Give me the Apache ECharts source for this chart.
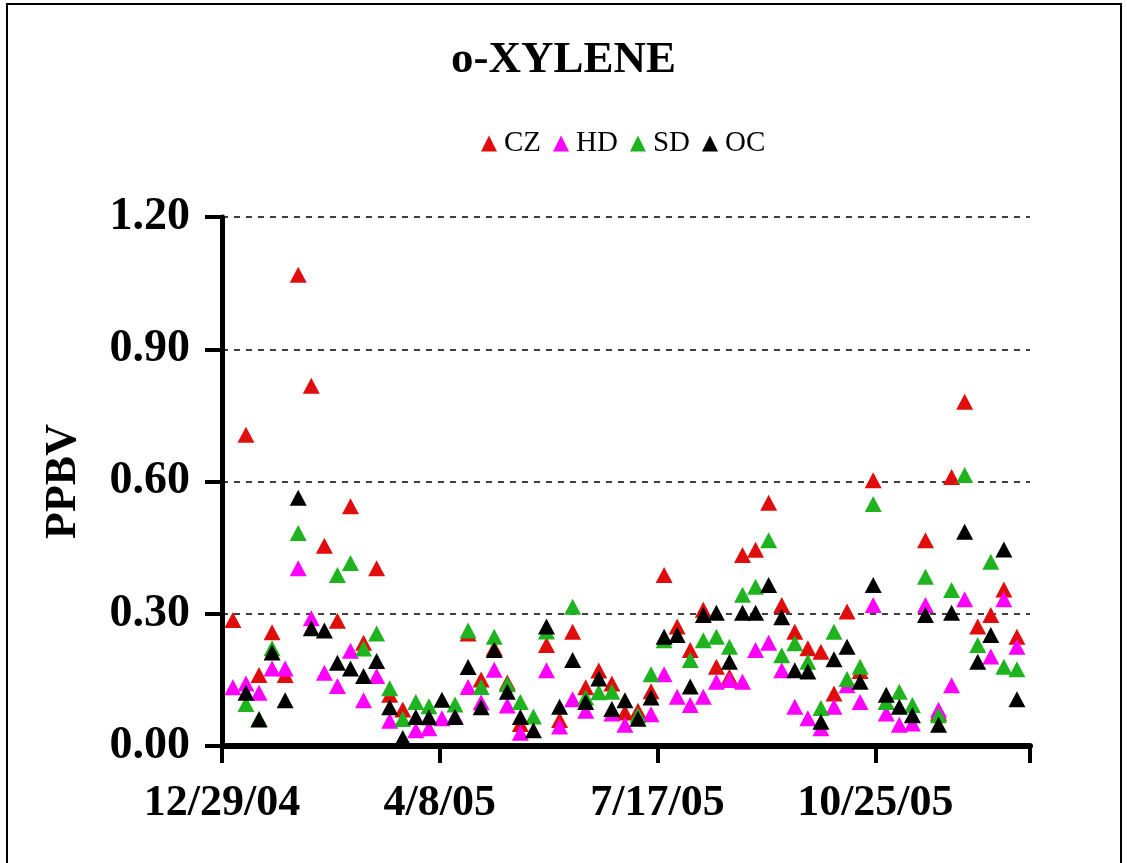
<!DOCTYPE html>
<html>
<head>
<meta charset="utf-8">
<script src="https://cdn.jsdelivr.net/npm/echarts@6/dist/echarts.min.js"></script>
<style>
html,body{margin:0;padding:0;background:#fff;}
#chart{width:1127px;height:863px;}
</style>
</head>
<body>
<div id="chart"></div>
<script>
// Sampling dates (every 6th day)
const sampleDates = [
 '2005-01-03','2005-01-09','2005-01-15','2005-01-21','2005-01-27','2005-02-02','2005-02-08','2005-02-14','2005-02-20','2005-02-26',
 '2005-03-04','2005-03-10','2005-03-16','2005-03-22','2005-03-28','2005-04-03','2005-04-09','2005-04-15','2005-04-21','2005-04-27',
 '2005-05-03','2005-05-09','2005-05-15','2005-05-21','2005-05-27','2005-06-02','2005-06-08','2005-06-14','2005-06-20','2005-06-26',
 '2005-07-02','2005-07-08','2005-07-14','2005-07-20','2005-07-26','2005-08-01','2005-08-07','2005-08-13','2005-08-19','2005-08-25',
 '2005-08-31','2005-09-06','2005-09-12','2005-09-18','2005-09-24','2005-09-30','2005-10-06','2005-10-12','2005-10-18','2005-10-24',
 '2005-10-30','2005-11-05','2005-11-11','2005-11-17','2005-11-23','2005-11-29','2005-12-05','2005-12-11','2005-12-17','2005-12-23',
 '2005-12-29'
];
const seriesNames = ['CZ','HD','SD','OC'];
const CZ = [0.286,0.706,0.161,0.258,0.161,1.069,0.817,0.454,0.284,0.544,
 0.234,0.403,0.116,0.083,null,null,null,null,0.255,0.151,
 0.222,0.144,0.050,null,0.229,0.059,0.259,0.133,0.171,0.142,
 0.076,0.080,0.124,0.388,0.271,0.218,0.309,0.180,0.157,0.433,
 0.445,0.552,0.320,0.259,0.222,0.214,0.119,0.305,0.170,0.603,
 0.100,null,null,0.467,0.075,0.610,0.781,0.271,0.297,0.355,
 0.248];
const HD = [0.133,0.142,0.121,0.176,0.176,0.403,0.290,0.166,0.136,0.216,
 0.104,0.159,0.057,null,0.036,0.040,0.063,0.068,0.134,0.099,
 0.173,0.092,0.030,null,0.172,0.044,0.106,0.080,null,0.074,
 0.048,null,0.072,0.163,0.112,0.093,0.112,0.146,0.150,0.146,
 0.218,0.234,0.172,0.089,0.063,0.040,0.089,0.138,0.100,0.320,
 0.074,0.048,0.051,0.320,0.082,0.138,0.333,null,0.203,0.333,
 0.225];
const SD = [null,0.095,0.062,0.222,null,0.483,null,null,0.388,0.415,
 0.221,0.255,0.131,0.061,0.100,0.090,null,0.094,0.262,0.134,
 0.248,0.140,0.100,0.067,0.260,null,0.316,0.110,0.122,0.123,
 null,0.070,0.163,0.240,null,0.195,0.240,0.248,0.225,0.343,
 0.361,0.467,0.206,0.233,0.191,0.086,0.259,0.152,0.180,0.549,
 0.100,0.123,0.093,0.384,0.070,0.354,0.615,0.229,0.418,0.180,
 0.174];
const OC = [null,0.121,0.060,0.212,0.104,0.563,0.267,0.262,0.189,0.176,
 0.159,0.193,0.088,0.018,0.066,0.065,0.105,0.066,0.179,0.088,
 0.218,0.123,0.066,0.036,0.271,0.089,0.195,0.100,0.153,0.084,
 0.104,0.062,0.110,0.248,0.252,0.135,0.297,0.302,0.191,0.302,
 0.302,0.365,0.292,0.172,0.169,0.055,0.197,0.225,0.146,0.365,
 0.116,0.089,0.070,0.297,0.048,0.302,0.486,0.191,0.252,0.446,
 0.106];
const yTicks = [0, 0.3, 0.6, 0.9, 1.2];
const xTickDates = ['12/29/04','4/8/05','7/17/05','10/25/05'];

const origin = Date.UTC(2004, 11, 29);
const dayOf = s => { const p = s.split('-').map(Number); return Math.round((Date.UTC(p[0], p[1]-1, p[2]) - origin) / 864e5); };
const days = sampleDates.map(dayOf);
const toPairs = arr => days.map((d, i) => arr[i] == null ? null : [d, arr[i]]).filter(Boolean);

const colors = ['#e00d0d', '#ff00ff', '#1fb41f', '#000000'];
const allSeries = [CZ, HD, SD, OC];

const chart = echarts.init(document.getElementById('chart'));
const serif = "'Liberation Serif','Times New Roman',serif";
chart.setOption({
  animation: false,
  backgroundColor: '#fff',
  title: {
    text: 'o-XYLENE', left: 'center', top: 33,
    textStyle: { fontFamily: serif, fontWeight: 'bold', fontSize: 45, color: '#000' }
  },
  legend: {
    data: seriesNames, left: 476, top: 124, icon: 'triangle',
    itemWidth: 16, itemHeight: 16, itemGap: 12,
    textStyle: { fontFamily: serif, fontSize: 29, color: '#000', padding: [0, 0, 0, 2] }
  },
  graphic: [{
    type: 'rect', shape: { x: 7, y: 4, width: 1114, height: 900 },
    style: { fill: 'none', stroke: '#000', lineWidth: 2 }, silent: true
  }],
  grid: { left: 222, right: 97, top: 217, bottom: 117 },
  xAxis: {
    type: 'value', min: 0, max: 371, interval: 100,
    axisLine: { show: true, onZero: false, lineStyle: { color: '#000', width: 6 } },
    axisTick: { show: true, length: 17, lineStyle: { color: '#000', width: 4 } },
    splitLine: { show: false },
    axisLabel: {
      margin: 36, fontFamily: serif, fontWeight: 'bold', fontSize: 44, color: '#000',
      formatter: v => (v % 100 === 0 && xTickDates[v/100]) ? xTickDates[v/100] : ''
    }
  },
  yAxis: {
    type: 'value', min: yTicks[0], max: yTicks[yTicks.length-1], interval: 0.3,
    name: 'PPBV', nameLocation: 'middle', nameGap: 136, nameRotate: 90,
    nameTextStyle: { fontFamily: serif, fontWeight: 'bold', fontSize: 44, color: '#000' },
    axisLine: { show: true, lineStyle: { color: '#000', width: 5 } },
    axisTick: { show: true, length: 17, lineStyle: { color: '#000', width: 4 } },
    splitLine: { show: true, lineStyle: { color: '#000', type: [6, 6], width: 1.5 } },
    axisLabel: {
      margin: 32, fontFamily: serif, fontWeight: 'bold', fontSize: 46, color: '#000',
      formatter: v => v.toFixed(2)
    }
  },
  series: allSeries.map((arr, i) => ({
    name: seriesNames[i], type: 'scatter', symbol: 'triangle', symbolSize: [17, 16],
    itemStyle: { color: colors[i], opacity: 1 },
    data: toPairs(arr)
  }))
});
</script>
</body>
</html>
